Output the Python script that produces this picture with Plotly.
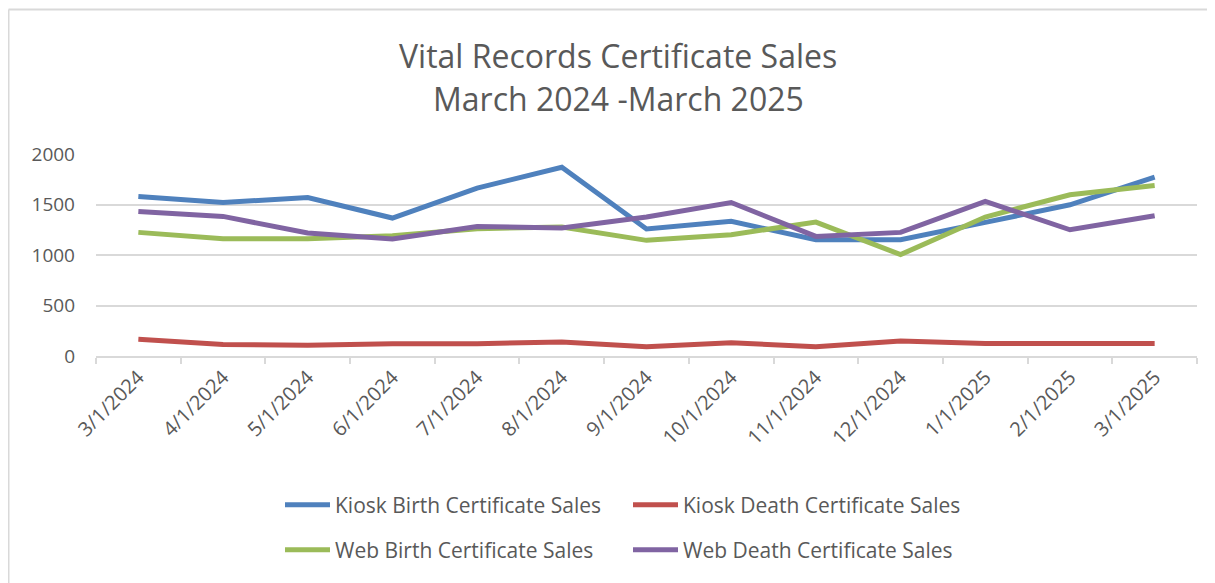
import plotly.graph_objects as go

dates = ["3/1/2024", "4/1/2024", "5/1/2024", "6/1/2024", "7/1/2024", "8/1/2024",
         "9/1/2024", "10/1/2024", "11/1/2024", "12/1/2024", "1/1/2025", "2/1/2025", "3/1/2025"]
kiosk_birth = [1579, 1520, 1569, 1366, 1662, 1869, 1257, 1333, 1152, 1152, 1323, 1497, 1770]
kiosk_death = [165, 115, 106, 122, 122, 138, 92, 132, 92, 148, 125, 125, 125]
web_birth = [1224, 1162, 1162, 1191, 1260, 1277, 1145, 1201, 1326, 1004, 1376, 1596, 1688]
web_death = [1431, 1382, 1218, 1159, 1283, 1267, 1376, 1520, 1184, 1224, 1530, 1250, 1389]

# page body has an 8px margin: work in screen coords and shift
OFF = 8
W, H = 1215, 583
L = 96 - OFF
T = 154 - OFF
R = W - (1197 - OFF)
B = H - (356 - OFF)
pw, ph = W - L - R, H - T - B

def px(sx):
    return (sx - OFF - L) / pw

def py(sy):
    return (H - B - (sy - OFF)) / ph

FONT = "Open Sans"
TXT = "#595959"
GRID = "#d9d9d9"

fig = go.Figure()
series = [
    ("Kiosk Birth Certificate Sales", kiosk_birth, "#4F81BD", "legend"),
    ("Kiosk Death Certificate Sales", kiosk_death, "#C0504D", "legend"),
    ("Web Birth Certificate Sales", web_birth, "#9BBB59", "legend2"),
    ("Web Death Certificate Sales", web_death, "#8064A2", "legend2"),
]
for name, vals, col, lg in series:
    fig.add_trace(go.Scatter(x=dates, y=vals, mode="lines", name=name,
                             line=dict(color=col, width=5), legend=lg))

legend_common = dict(orientation="h", xanchor="left", x=px(280), yanchor="middle",
                     font=dict(family=FONT, size=21, color=TXT),
                     entrywidth=288, entrywidthmode="pixels", bgcolor="rgba(0,0,0,0)",
                     itemwidth=45)

fig.update_layout(
    width=W, height=H,
    margin=dict(l=L, r=R, t=T, b=B),
    paper_bgcolor="white", plot_bgcolor="white",
    legend=dict(y=py(505), **legend_common),
    legend2=dict(y=py(550), **legend_common),
    xaxis=dict(type="category", range=[-0.5, len(dates) - 0.5], tickson="boundaries",
               ticks="outside", ticklen=6, tickcolor=GRID, tickwidth=1.5,
               showline=True, linecolor=GRID, linewidth=1.5, showgrid=False,
               tickangle=-45, tickfont=dict(family=FONT, size=20, color=TXT)),
    yaxis=dict(range=[0, 2000], dtick=500, showgrid=True, gridcolor=GRID, gridwidth=1.5,
               zeroline=False, showline=False, ticks="", ticklabelstandoff=20,
               tickfont=dict(family=FONT, size=19, color=TXT)),
    annotations=[
        dict(text="Vital Records Certificate Sales", xref="paper", yref="paper",
             x=px(618), y=py(55), xanchor="center", yanchor="middle", showarrow=False,
             font=dict(family=FONT, size=32, color=TXT)),
        dict(text="March 2024 -March 2025", xref="paper", yref="paper",
             x=px(618), y=py(98), xanchor="center", yanchor="middle", showarrow=False,
             font=dict(family=FONT, size=32, color=TXT)),
    ],
    shapes=[
        dict(type="line", xref="paper", yref="paper", x0=px(8.5), x1=px(W + OFF), y0=py(9.5), y1=py(9.5),
             line=dict(color=GRID, width=2)),
        dict(type="line", xref="paper", yref="paper", x0=px(8.5), x1=px(8.5), y0=py(9.5), y1=py(H + OFF),
             line=dict(color=GRID, width=2)),
    ],
)

fig.write_html("out.html")
